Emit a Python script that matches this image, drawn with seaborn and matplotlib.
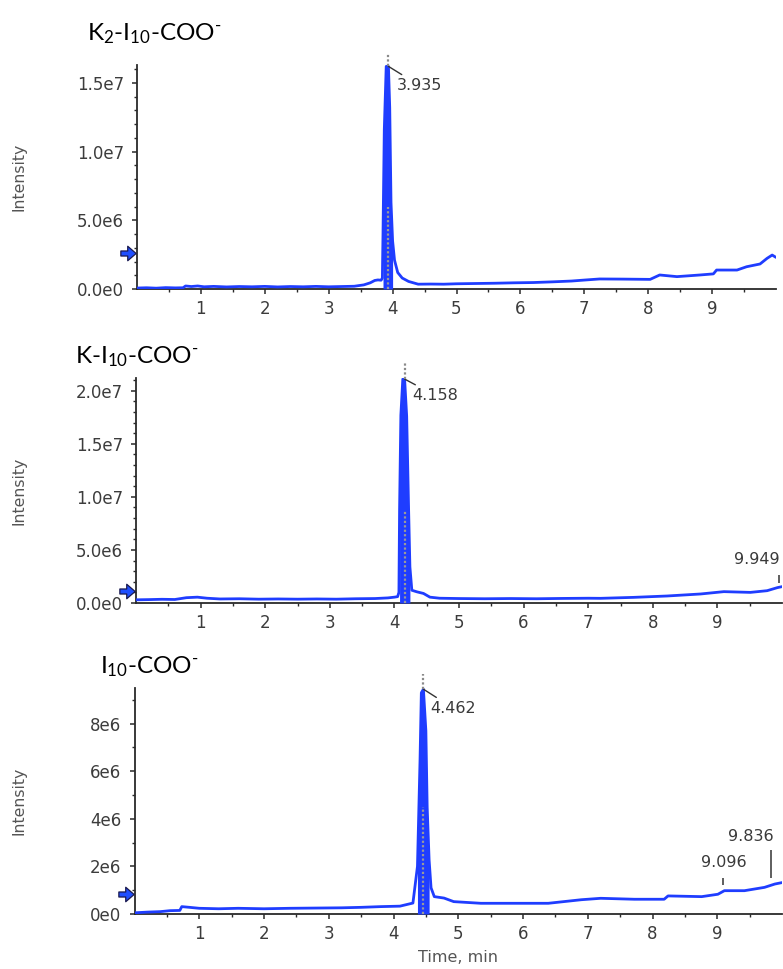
import matplotlib
matplotlib.use("Agg")
import matplotlib.pyplot as plt
from matplotlib.path import Path
import seaborn as sns

# ---------------- data (intensity in units of 1e6 counts) ----------------
k2_time = [0.00, 0.15, 0.30, 0.45, 0.60, 0.72, 0.76, 0.85, 0.95, 1.05, 1.20, 1.40,
           1.60, 1.80, 2.00, 2.20, 2.40, 2.60, 2.80, 3.00, 3.20, 3.40, 3.55, 3.65,
           3.72, 3.77, 3.82, 3.84, 3.85, 3.87, 3.90, 3.935, 3.955, 3.975, 4.00, 4.03,
           4.08, 4.15, 4.25, 4.40, 4.60, 4.80, 5.00, 5.30, 5.60, 5.90, 6.20, 6.50,
           6.80, 7.00, 7.24, 7.60, 8.03, 8.18, 8.45, 8.81, 9.02, 9.07, 9.39, 9.54,
           9.75, 9.86, 9.94, 10.00]
k2_int = [0.07, 0.09, 0.06, 0.10, 0.08, 0.09, 0.22, 0.18, 0.22, 0.16, 0.19, 0.15,
          0.18, 0.16, 0.19, 0.15, 0.18, 0.16, 0.19, 0.16, 0.18, 0.20, 0.30, 0.45,
          0.62, 0.66, 0.64, 0.80, 4.10, 11.6, 16.2, 16.2, 13.2, 6.3, 3.5, 2.1,
          1.2, 0.80, 0.55, 0.35, 0.36, 0.35, 0.38, 0.40, 0.42, 0.45, 0.47, 0.52,
          0.58, 0.65, 0.73, 0.72, 0.70, 1.02, 0.90, 1.02, 1.10, 1.38, 1.38, 1.62,
          1.82, 2.23, 2.47, 2.30]

k1_time = [0.00, 0.20, 0.40, 0.60, 0.78, 0.95, 1.10, 1.30, 1.60, 1.90, 2.20, 2.50,
           2.80, 3.10, 3.40, 3.70, 3.90, 4.00, 4.05, 4.07, 4.08, 4.10, 4.13, 4.158,
           4.19, 4.22, 4.24, 4.27, 4.35, 4.45, 4.55, 4.70, 5.00, 5.40, 5.80, 6.20,
           6.60, 7.00, 7.19, 7.70, 8.22, 8.74, 9.10, 9.51, 9.77, 9.93, 10.00]
k1_int = [0.30, 0.32, 0.35, 0.33, 0.50, 0.55, 0.45, 0.38, 0.40, 0.36, 0.38, 0.36,
          0.38, 0.36, 0.40, 0.42, 0.48, 0.55, 0.60, 1.00, 8.80, 17.7, 21.1, 21.1,
          17.6, 8.80, 3.40, 1.20, 1.05, 0.90, 0.55, 0.45, 0.42, 0.40, 0.42, 0.40,
          0.43, 0.45, 0.44, 0.53, 0.66, 0.85, 1.07, 1.00, 1.16, 1.45, 1.54]

k0_time = [0.00, 0.20, 0.40, 0.55, 0.70, 0.73, 0.85, 1.00, 1.30, 1.60, 2.00, 2.40,
           2.80, 3.20, 3.50, 3.80, 4.10, 4.30, 4.37, 4.41, 4.43, 4.462, 4.50, 4.52,
           4.55, 4.58, 4.63, 4.78, 4.93, 5.35, 5.80, 6.39, 6.90, 7.20, 7.72, 8.18,
           8.24, 8.76, 9.01, 9.11, 9.42, 9.73, 9.89, 10.00]
k0_int = [0.05, 0.08, 0.10, 0.14, 0.15, 0.31, 0.28, 0.24, 0.22, 0.24, 0.22, 0.24,
          0.25, 0.26, 0.28, 0.31, 0.33, 0.46, 2.00, 6.50, 9.30, 9.45, 7.70, 4.50,
          2.27, 1.10, 0.73, 0.67, 0.52, 0.45, 0.45, 0.45, 0.60, 0.66, 0.62, 0.62,
          0.76, 0.73, 0.83, 0.98, 0.98, 1.12, 1.26, 1.32]

titles = [r"K$_2$-I$_{10}$-COO$^{\text{-}}$", r"K-I$_{10}$-COO$^{\text{-}}$",
          r"I$_{10}$-COO$^{\text{-}}$"]
apex_times = [3.935, 4.158, 4.462]
apex_labels = ["3.935", "4.158", "4.462"]
apex_int = [16.2, 21.1, 9.45]
minor_labels = [[], ["9.949"], ["9.096", "9.836"]]
minor_times = [[], [9.949], [9.096, 9.836]]
ytick_vals = [[0, 5, 10, 15], [0, 5, 10, 15, 20], [0, 2, 4, 6, 8]]
ytick_labels = [["0.0e0", "5.0e6", "1.0e7", "1.5e7"],
                ["0.0e0", "5.0e6", "1.0e7", "1.5e7", "2.0e7"],
                ["0e0", "2e6", "4e6", "6e6", "8e6"]]
xtick_vals = [1, 2, 3, 4, 5, 6, 7, 8, 9]
arrow_level = [2.6, 1.1, 0.84]
series = [(k2_time, k2_int), (k1_time, k1_int), (k0_time, k0_int)]

# ---------------- layout / style ----------------
W, H = 783, 969
sns.set_style("ticks")
plt.rcParams["font.family"] = ["DejaVu Sans"]
plt.rcParams["mathtext.fontset"] = "custom"
plt.rcParams["mathtext.rm"] = "Lato"
plt.rcParams["mathtext.default"] = "regular"

BLUE = "#1f3dff"
TICKC = "#3c3c3c"

fig = plt.figure(figsize=(W / 100, H / 100), dpi=100)

rects_px = [(137, 65, 776, 289), (136, 378, 782, 603), (134.5, 688, 782, 914)]
ylims = [16.3, 21.2, 9.5]
title_pos = [(87, 40), (75, 363), (100, 673)]
apex_offsets = [(8, -19), (8, -16.5), (7, -19)]
dots_low = [6.0, 8.8, 4.5]
dots_high = [17.2, 22.6, 10.1]
peak_halfwin = 0.13
minor_geom = [[], [(1.9, 2.64, 4.06, "right", 1)],
              [(1.22, 1.53, 2.15, "center", 0), (1.52, 2.7, 3.26, "right", 2)]]

arrow_path = Path([(-1, -0.33), (-0.1, -0.33), (-0.1, -0.95), (1, 0),
                   (-0.1, 0.95), (-0.1, 0.33), (-1, 0.33), (-1, -0.33)],
                  [Path.MOVETO] + [Path.LINETO] * 6 + [Path.CLOSEPOLY])

for i, (tt, yy) in enumerate(series):
    l, t, r, b = rects_px[i]
    ax = fig.add_axes([l / W, 1 - b / H, (r - l) / W, (b - t) / H])
    sns.lineplot(x=tt, y=yy, ax=ax, color=BLUE, linewidth=2.0, sort=False,
                 estimator=None, zorder=3)
    # dense sampling inside the peak renders as a solid blue spike
    ta = apex_times[i]
    inpk = [abs(x - ta) <= peak_halfwin and y >= 0.15 * apex_int[i]
            for x, y in zip(tt, yy)]
    ax.fill_between(tt, 0, yy, where=inpk, color=BLUE, linewidth=0, zorder=3)

    ax.set_xlim(0, 10)
    ax.set_ylim(0, ylims[i])
    sns.despine(ax=ax)
    for s in ("left", "bottom"):
        ax.spines[s].set_color("#2a2a2a")
        ax.spines[s].set_linewidth(1.3)

    ax.set_xticks(xtick_vals)
    ax.set_xticks([v + 0.5 for v in range(0, 10)], minor=True)
    ax.set_yticks(ytick_vals[i])
    ax.set_yticklabels(ytick_labels[i])
    ax.set_yticks(list(range(0, int(ylims[i]) + 1)), minor=True)
    ax.tick_params(axis="both", which="major", length=3.5, width=1.1, color="#2a2a2a",
                   labelsize=12, labelcolor=TICKC)
    ax.tick_params(axis="both", which="minor", length=2.0, width=1.0, color="#2a2a2a")
    ax.tick_params(axis="x", which="major", pad=4.5)
    ax.tick_params(axis="y", which="major", pad=6)

    ax.set_ylabel("Intensity", fontsize=11.3, color="#555555", va="center")
    ax.yaxis.set_label_coords((19 - l) / (r - l), 0.5)
    if i == 2:
        ax.set_xlabel("Time, min", fontsize=11.5, color="#555555", labelpad=5)
    else:
        ax.set_xlabel("")

    # apex markers (dotted integration line) and label
    ax.vlines(ta, 0, dots_low[i], colors="#9a9a9a", linestyles=(0, (1, 1)),
              linewidth=1.6, zorder=4)
    ax.vlines(ta, apex_int[i], dots_high[i], colors="#8a8a8a", linestyles=(0, (1, 1)),
              linewidth=1.6, zorder=4, clip_on=False)
    ax.annotate(apex_labels[i], xy=(ta, apex_int[i]), xytext=apex_offsets[i],
                textcoords="offset pixels", ha="left", va="center", fontsize=11.5,
                color="#3a3a3a", annotation_clip=False,
                arrowprops=dict(arrowstyle="-", color="#333333", lw=1.0,
                                shrinkA=0, shrinkB=0))

    for lab, tm, (y0, y1, ytxt, ha, dx) in zip(minor_labels[i], minor_times[i], minor_geom[i]):
        ax.vlines(tm, y0, y1, colors="#333333", linewidth=1.1, clip_on=False)
        ax.annotate(lab, xy=(tm, ytxt), xytext=(dx, 0), textcoords="offset pixels",
                    ha=ha, va="center", fontsize=11.5, color="#3a3a3a",
                    annotation_clip=False)

    # blue threshold arrow at the left of the y axis
    ax.plot([-9 / (r - l)], [arrow_level[i]], marker=arrow_path, markersize=11,
            markerfacecolor="#1f4fff", markeredgecolor="#1a1a50", markeredgewidth=0.9,
            transform=ax.get_yaxis_transform(), clip_on=False, zorder=5)

    tx, ty = title_pos[i]
    fig.text(tx / W, 1 - ty / H, titles[i], fontsize=17.5, family="Lato",
             color="black", ha="left", va="baseline")

fig.savefig("out.png", dpi=100)
